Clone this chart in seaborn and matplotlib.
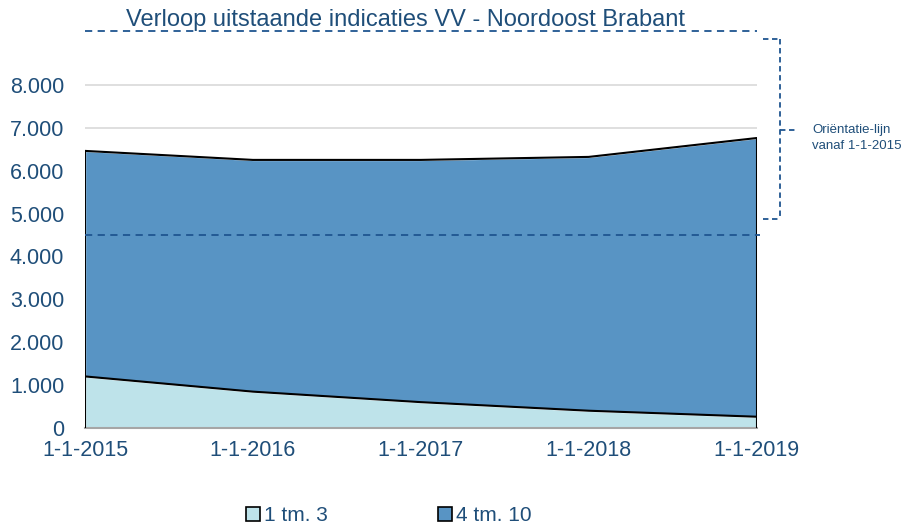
import matplotlib.pyplot as plt
import matplotlib.lines as mlines
import matplotlib.patches as mpatches
import pandas as pd
import seaborn as sns

# Data
dates = ['1-1-2015', '1-1-2016', '1-1-2017', '1-1-2018', '1-1-2019']
klasse_1_3 = [1200, 845, 600, 400, 260]
klasse_4_10 = [5260, 5405, 5650, 5920, 6500]
orientatie = 4500
y_ticks = [0, 1000, 2000, 3000, 4000, 5000, 6000, 7000, 8000]
y_labels = ['0', '1.000', '2.000', '3.000', '4.000', '5.000', '6.000', '7.000', '8.000']

blue_txt = '#1F4E79'
dash_col = '#1F5590'
light = '#BEE3EA'
dark = '#5894C4'

sns.set_style('white')
plt.rcParams['font.family'] = ['Liberation Sans', 'DejaVu Sans']

df = pd.DataFrame({'x': range(len(dates)), 'a': klasse_1_3, 'b': klasse_4_10})
df['totaal'] = df['a'] + df['b']

fig = plt.figure(figsize=(9.04, 5.25), dpi=100)
ax = fig.add_axes([0.094, 0.185, 0.743, 0.735])

ax.stackplot(df['x'], df['a'], df['b'], colors=[light, dark], zorder=2)
sns.lineplot(x='x', y='a', data=df, color='black', lw=1.5, ax=ax, zorder=3)
sns.lineplot(x='x', y='totaal', data=df, color='black', lw=1.5, ax=ax, zorder=3)
ax.vlines([0, len(dates) - 1], 0, [df['totaal'].iloc[0], df['totaal'].iloc[-1]],
          color='black', lw=1.5, zorder=3)

# orientation line
ax.axhline(orientatie, color=dash_col, ls=(0, (4, 3)), lw=1.3, xmax=1.005, clip_on=False, zorder=4)
ax.axhline(9250, color=dash_col, ls=(0, (4, 3)), lw=1.3, clip_on=False, zorder=4)

ax.set_xlim(0, len(dates) - 1)
ax.set_ylim(0, 9000)
ax.set_xticks(range(len(dates)))
ax.set_xticklabels(dates)
ax.set_yticks(y_ticks)
ax.set_yticklabels(y_labels)
ax.tick_params(axis='both', colors=blue_txt, labelsize=15.5, length=0)
ax.tick_params(axis='x', pad=9)
ax.tick_params(axis='y', pad=15)
for t in ax.get_xticklabels() + ax.get_yticklabels():
    t.set_color(blue_txt)
ax.grid(axis='y', color='#D9D9D9', lw=1.2, zorder=0)
ax.set_axisbelow(True)
for s in ['top', 'right', 'left']:
    ax.spines[s].set_visible(False)
ax.spines['bottom'].set_color('#A6A6A6')
ax.spines['bottom'].set_linewidth(1.5)
ax.set_xlabel('')
ax.set_ylabel('')

fig.text(0.449, 0.962, 'Verloop uitstaande indicaties VV - Noordoost Brabant',
         ha='center', va='center', fontsize=17, color=blue_txt)

# bracket annotation (figure coordinates)
W, H = 904, 525
def fx(px):
    return px / W
def fy(py):
    return 1 - py / H
ls = (0, (3, 2))
for xs, ys in [([763, 780], [39, 39]), ([780, 780], [39, 219]),
               ([763, 780], [219, 219]), ([780, 797], [130, 130])]:
    fig.add_artist(mlines.Line2D([fx(v) for v in xs], [fy(v) for v in ys],
                                 color=dash_col, lw=1.3, ls=ls))
fig.text(fx(812), fy(138), 'Oriëntatie-lijn\nvanaf 1-1-2015', ha='left', va='center',
         fontsize=9.5, color=blue_txt, linespacing=1.35)

handles = [mpatches.Patch(facecolor=light, edgecolor='black', lw=1.2, label='1 tm. 3'),
           mpatches.Patch(facecolor=dark, edgecolor='black', lw=1.2, label='4 tm. 10')]
leg = fig.legend(handles=handles, loc='center', bbox_to_anchor=(0.43, 0.018), ncol=2,
                 frameon=False, fontsize=15, handlelength=0.65, handleheight=0.65,
                 handletextpad=0.2, columnspacing=5.3)
for t in leg.get_texts():
    t.set_color(blue_txt)

fig.savefig('out.png', dpi=100)
